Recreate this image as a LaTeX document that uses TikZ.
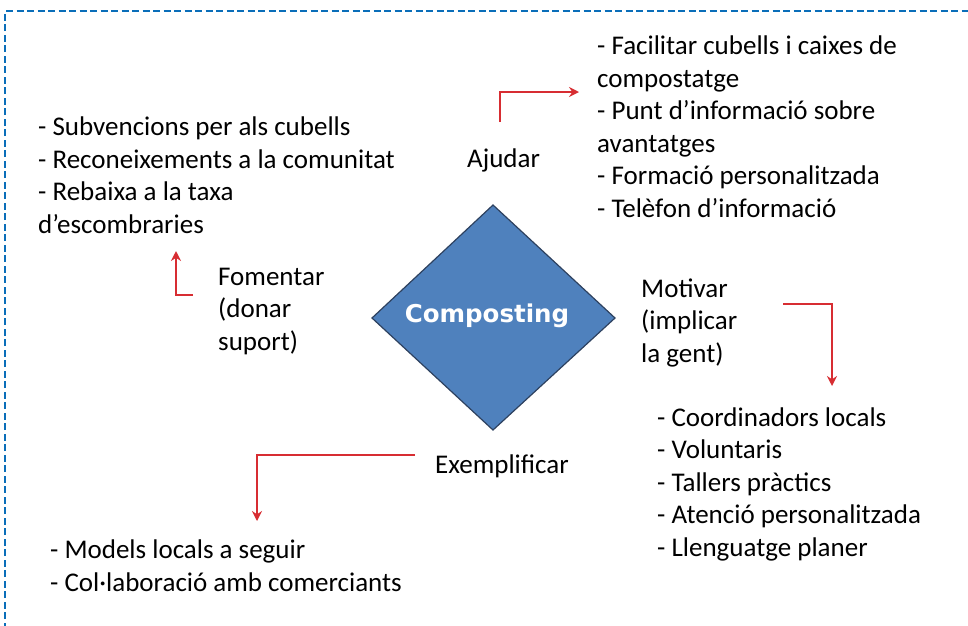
\documentclass[tikz,border=0pt]{standalone}
\usepackage{fontspec}
\setmainfont{Carlito}
\newfontfamily\diafont{DejaVu Sans}
\usetikzlibrary{arrows.meta}
\definecolor{bordblue}{RGB}{10,110,185}
\definecolor{diafill}{RGB}{79,129,189}
\definecolor{diaedge}{RGB}{45,65,95}
\definecolor{arrred}{RGB}{215,45,50}
\tikzset{
  txt/.style={anchor=base west, inner sep=0pt, align=left, font=\fontsize{27}{32.5}\selectfont, text=black},
  redarr/.style={draw=arrred, line width=2.6pt, -{Stealth[length=10pt,width=10pt]}},
  border/.style={draw=bordblue, line width=2.8pt, dash pattern=on 7pt off 3.5pt},
}
\begin{document}
\begin{tikzpicture}[x=1pt,y=-1pt]
\useasboundingbox (0,0) rectangle (968,625);
\draw[border] (5,640) -- (5,11) -- (985,11);
% diamond
\coordinate (dT) at (493,205);
\coordinate (dR) at (615,318);
\coordinate (dB) at (493,430);
\coordinate (dL) at (372,318);
\draw[fill=diafill, draw=diaedge, line width=1.2pt] (dT) -- (dR) -- (dB) -- (dL) -- cycle;
\node[inner sep=0pt, text=white, font=\diafont\bfseries\fontsize{24.5}{29}\selectfont] (comp) at (487,316) {Composting};
% texts (anchor = baseline of last line)
\node[txt] (ajtxt) at (597,217) {- Facilitar cubells i caixes de\\compostatge\\- Punt d’informació sobre\\avantatges\\- Formació personalitzada\\- Telèfon d’informació};
\node[txt] (fotxt) at (38,233) {- Subvencions per als cubells\\- Reconeixements a la comunitat\\- Rebaixa a la taxa\\d’escombraries};
\node[txt] (ajudar) at (467,167) {Ajudar};
\node[txt] (fomentar) at (218,350) {Fomentar\\(donar\\suport)};
\node[txt] (motivar) at (641,362) {Motivar\\(implicar\\la gent)};
\node[txt] (motxt) at (657,556) {- Coordinadors locals\\- Voluntaris\\- Tallers pràctics\\- Atenció personalitzada\\- Llenguatge planer};
\node[txt] (exempl) at (435,473) {Exemplificar};
\node[txt] (extxt) at (50,591) {- Models locals a seguir\\- Col·laboració amb comerciants};
% arrows
\coordinate (a1s) at (500,122);
\coordinate (a1c) at (500,92);
\coordinate (a1e) at (579,92);
\draw[redarr] (a1s) -- (a1c) -- (a1e);
\coordinate (a2s) at (193,295);
\coordinate (a2c) at (176,295);
\coordinate (a2e) at (176,251);
\draw[redarr] (a2s) -- (a2c) -- (a2e);
\coordinate (a3s) at (783,304);
\coordinate (a3c) at (832,304);
\coordinate (a3e) at (832,386);
\draw[redarr] (a3s) -- (a3c) -- (a3e);
\coordinate (a4s) at (415,455);
\coordinate (a4c) at (257,455);
\coordinate (a4e) at (257,521);
\draw[redarr] (a4s) -- (a4c) -- (a4e);
\end{tikzpicture}
\end{document}
